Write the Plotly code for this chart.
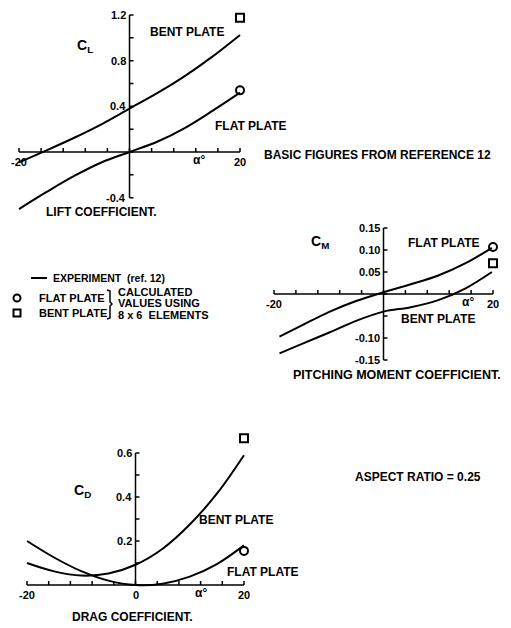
import plotly.graph_objects as go

W, H = 511, 628

# ---------------- data ----------------
alpha_lift = [-20, -15, -10, -5, 0, 5, 10, 15, 20]
cl_bent = [-0.09, 0.015, 0.125, 0.245, 0.38, 0.515, 0.665, 0.835, 1.025]
cl_flat = [-0.50, -0.35, -0.21, -0.09, 0.0, 0.09, 0.21, 0.36, 0.52]

alpha_pm = [-19, -15, -10, -5, 0, 5, 10, 15, 19.8]
cm_flat = [-0.097, -0.072, -0.041, -0.016, 0.004, 0.022, 0.042, 0.070, 0.105]
cm_bent = [-0.135, -0.114, -0.088, -0.061, -0.040, -0.030, -0.014, 0.013, 0.050]

alpha_cd = [-20, -15, -10, -5, 0, 5, 10, 15, 20]
cd_flat = [0.200, 0.125, 0.063, 0.020, 0.0, 0.006, 0.038, 0.095, 0.180]
cd_bent = [0.100, 0.062, 0.043, 0.052, 0.092, 0.165, 0.275, 0.415, 0.590]

calc_alpha = [20]
calc_cl_flat = [0.54]
calc_cl_bent = [1.175]
calc_cm_flat = [0.107]
calc_cm_bent = [0.070]
calc_cd_flat = [0.155]
calc_cd_bent = [0.667]

x_ticks = [-20, -16, -12, -8, -4, 0, 4, 8, 12, 16, 20]
cl_ticks = [-0.4, -0.2, 0.0, 0.2, 0.4, 0.6, 0.8, 1.0, 1.2]
cl_labels = {1.2: "1.2", 0.8: "0.8", 0.4: "0.4", -0.4: "-0.4"}
cm_ticks = [-0.15, -0.10, -0.05, 0.0, 0.05, 0.10, 0.15]
cm_labels = {0.15: "0.15", 0.10: "0.10", 0.05: "0.05", -0.10: "-0.10", -0.15: "-0.15"}
cd_ticks = [0.0, 0.1, 0.2, 0.3, 0.4, 0.5, 0.6]
cd_labels = {0.6: "0.6", 0.4: "0.4", 0.2: "0.2"}

FONT = "Liberation Sans, Arial, sans-serif"

# panel geometry (pixel boxes converted to domains)
def dom(a, b, total, flip=False):
    if flip:
        return [1 - b / total, 1 - a / total]
    return [a / total, b / total]

panels = {
    "lift": dict(xa="x", ya="y", xr=[-22, 22], yr=[-0.6, 1.3],
                 xd=dom(7.95, 251.05, W), yd=dom(3.58, 220.5, H, True)),
    "pm": dict(xa="x2", ya="y2", xr=[-22, 22], yr=[-0.18, 0.18],
               xd=dom(263.05, 503.95, W), yd=dom(214.8, 373.2, H, True)),
    "cd": dict(xa="x3", ya="y3", xr=[-22, 22], yr=[-0.05, 0.72],
               xd=dom(16.15, 254.85, W), yd=dom(426.6, 596.0, H, True)),
}

def upp(p):
    ux = (p["xr"][1] - p["xr"][0]) / ((p["xd"][1] - p["xd"][0]) * W)
    uy = (p["yr"][1] - p["yr"][0]) / ((p["yd"][1] - p["yd"][0]) * H)
    return ux, uy

fig = go.Figure()
shapes = []
annots = []

def curve(p, x, y):
    fig.add_trace(go.Scatter(x=x, y=y, mode="lines", xaxis=p["xa"], yaxis=p["ya"],
                             line=dict(color="black", width=2, shape="spline", smoothing=1.0),
                             showlegend=False, hoverinfo="skip"))

def marks(p, x, y, sym):
    fig.add_trace(go.Scatter(x=x, y=y, mode="markers", xaxis=p["xa"], yaxis=p["ya"],
                             marker=dict(symbol=sym, size=8, color="black",
                                         line=dict(color="black", width=2)),
                             cliponaxis=False, showlegend=False, hoverinfo="skip"))

def axes(p, yticks, ylabels, xlabels, alpha_pos, tl=4):
    ux, uy = upp(p)
    xr, yr = p["xa"], p["ya"]
    ln = dict(color="black", width=1.5)
    shapes.append(dict(type="line", xref=xr, yref=yr, x0=x_ticks[0], x1=x_ticks[-1],
                       y0=0, y1=0, line=ln))
    shapes.append(dict(type="line", xref=xr, yref=yr, x0=0, x1=0,
                       y0=yticks[0], y1=yticks[-1], line=ln))
    for t in x_ticks:
        shapes.append(dict(type="line", xref=xr, yref=yr, x0=t, x1=t, y0=0, y1=tl * uy, line=ln))
    for t in yticks:
        shapes.append(dict(type="line", xref=xr, yref=yr, x0=0, x1=tl * ux, y0=t, y1=t, line=ln))
    for v, s in ylabels.items():
        annots.append(dict(xref=xr, yref=yr, x=0, y=v, text=s, showarrow=False,
                           xanchor="right", yanchor="middle", xshift=-2,
                           font=dict(size=11, family=FONT, weight="bold", color="black")))
    for v, s in xlabels.items():
        annots.append(dict(xref=xr, yref=yr, x=v, y=0, text=s, showarrow=False,
                           xanchor="center", yanchor="top", yshift=-2,
                           font=dict(size=11, family=FONT, weight="bold", color="black")))
    annots.append(dict(xref=xr, yref=yr, x=alpha_pos, y=0, text="α°", showarrow=False,
                       xanchor="center", yanchor="top", yshift=1,
                       font=dict(size=12, family=FONT, weight="bold", color="black")))

L, M, D = panels["lift"], panels["pm"], panels["cd"]

curve(L, alpha_lift, cl_bent)
curve(L, alpha_lift, cl_flat)
marks(L, calc_alpha, calc_cl_flat, "circle-open")
marks(L, calc_alpha, calc_cl_bent, "square-open")
axes(L, cl_ticks, cl_labels, {-20: "-20", 20: "20"}, 12.5)

curve(M, alpha_pm, cm_flat)
curve(M, alpha_pm, cm_bent)
marks(M, calc_alpha, calc_cm_flat, "circle-open")
marks(M, calc_alpha, calc_cm_bent, "square-open")
axes(M, cm_ticks, cm_labels, {-20: "-20", 20: "20"}, 15.5)

curve(D, alpha_cd, cd_bent)
curve(D, alpha_cd, cd_flat)
marks(D, calc_alpha, calc_cd_flat, "circle-open")
marks(D, calc_alpha, calc_cd_bent, "square-open")
axes(D, cd_ticks, cd_labels, {-20: "-20", 0: "0", 20: "20"}, 12)

# pixel overlay axis for free text & legend key
def txt(x, y, s, size=12, anchor="center"):
    annots.append(dict(xref="x4", yref="y4", x=x, y=y, text=s, showarrow=False,
                       xanchor=anchor, yanchor="middle",
                       font=dict(size=size, family=FONT, weight="bold", color="black")))

txt(85, 46, "C<sub>L</sub>", 14)
txt(187, 32, "BENT PLATE")
txt(251, 126, "FLAT PLATE")
txt(262, 155, "BASIC FIGURES FROM REFERENCE 12", 12, "left")
txt(101, 212, "LIFT COEFFICIENT.")

txt(320, 242, "C<sub>M</sub>", 14)
txt(444, 243, "FLAT PLATE")
txt(438, 319, "BENT PLATE")
txt(397, 375, "PITCHING MOMENT COEFFICIENT.", 12.5)

txt(82, 491, "C<sub>D</sub>", 14)
txt(236, 520, "BENT PLATE")
txt(263, 572, "FLAT PLATE")
txt(132, 617, "DRAG COEFFICIENT.")
txt(418, 477, "ASPECT RATIO = 0.25")

# legend key
shapes.append(dict(type="line", xref="x4", yref="y4", x0=31, x1=47, y0=278, y1=278,
                   line=dict(color="black", width=2)))
txt(51, 278, "EXPERIMENT", 10.5, "left")
txt(125, 278, "(ref. 12)", 10.5, "left")
txt(37, 298, "FLAT PLATE", 11, "left")
txt(37, 313, "BENT PLATE", 11, "left")
txt(116, 291.5, "CALCULATED", 11, "left")
txt(116, 303, "VALUES USING", 11, "left")
txt(116, 314.5, "8 x 6  ELEMENTS", 11, "left")
shapes.append(dict(type="path", xref="x4", yref="y4",
                   path="M 107 290 L 110 291 L 110 302 L 112 304 L 110 306 L 110 318 L 107 319",
                   line=dict(color="black", width=1.5)))
fig.add_trace(go.Scatter(x=[17], y=[298], mode="markers", xaxis="x4", yaxis="y4",
                         marker=dict(symbol="circle-open", size=7, color="black",
                                     line=dict(color="black", width=2)),
                         showlegend=False, hoverinfo="skip"))
fig.add_trace(go.Scatter(x=[17], y=[313], mode="markers", xaxis="x4", yaxis="y4",
                         marker=dict(symbol="square-open", size=7, color="black",
                                     line=dict(color="black", width=2)),
                         showlegend=False, hoverinfo="skip"))

hidden = dict(visible=False, fixedrange=True)
fig.update_layout(
    width=W, height=H, margin=dict(l=0, r=0, t=0, b=0),
    paper_bgcolor="white", plot_bgcolor="rgba(0,0,0,0)",
    showlegend=False,
    font=dict(family=FONT, color="black"),
    xaxis=dict(domain=L["xd"], range=L["xr"], anchor="y", **hidden),
    yaxis=dict(domain=L["yd"], range=L["yr"], anchor="x", **hidden),
    xaxis2=dict(domain=M["xd"], range=M["xr"], anchor="y2", **hidden),
    yaxis2=dict(domain=M["yd"], range=M["yr"], anchor="x2", **hidden),
    xaxis3=dict(domain=D["xd"], range=D["xr"], anchor="y3", **hidden),
    yaxis3=dict(domain=D["yd"], range=D["yr"], anchor="x3", **hidden),
    xaxis4=dict(domain=[0, 1], range=[0, W], anchor="y4", **hidden),
    yaxis4=dict(domain=[0, 1], range=[H, 0], anchor="x4", **hidden),
    shapes=shapes, annotations=annots,
)

fig.write_html("out.html", config={"displayModeBar": False},
               post_script="document.body.style.margin='0';document.body.style.overflow='hidden';")
